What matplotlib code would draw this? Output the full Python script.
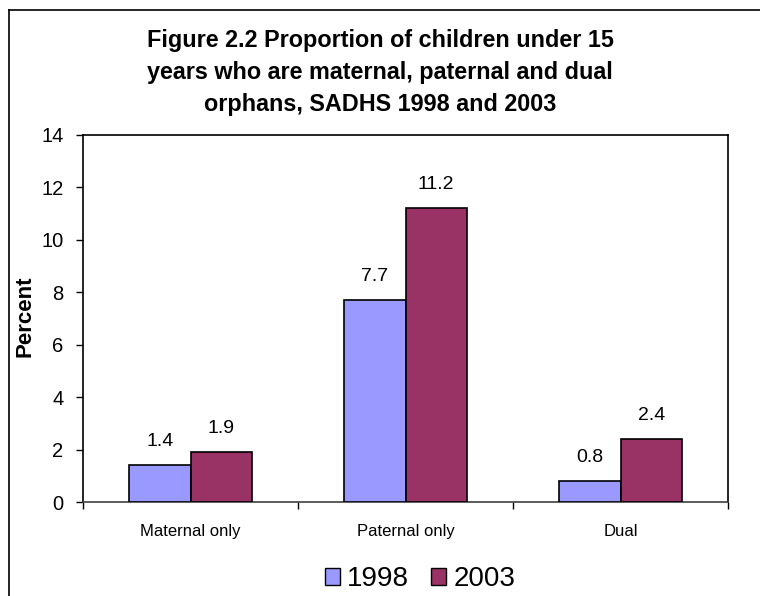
import matplotlib
matplotlib.use("Agg")
import matplotlib.pyplot as plt
from matplotlib.patches import Rectangle
from matplotlib.lines import Line2D
import numpy as np

plt.rcParams["font.family"] = ["Liberation Sans", "DejaVu Sans"]

categories = ["Maternal only", "Paternal only", "Dual"]
years = ["1998", "2003"]
vals_1998 = [1.4, 7.7, 0.8]
vals_2003 = [1.9, 11.2, 2.4]
colors = ["#9999FF", "#993366"]

fig = plt.figure(figsize=(7.6, 5.96), dpi=100)
ax = fig.add_axes([83 / 760, 1 - 502 / 596, (728 - 83) / 760, (502 - 135) / 596])

x = np.arange(len(categories))
w = 1 / 3.5
for i, (vals, col) in enumerate(zip([vals_1998, vals_2003], colors)):
    pos = x + (i - 0.5) * w
    ax.bar(pos, vals, width=w, color=col, edgecolor="black", linewidth=1.2, zorder=3)
    for p, v in zip(pos, vals):
        ax.annotate(f"{v}", (p, v), xytext=(0, 14), textcoords="offset points",
                    ha="center", va="baseline", fontsize=14)

ax.set_xlim(-0.5, 2.5)
ax.set_ylim(0, 14)
ax.set_yticks(range(0, 15, 2))
ax.tick_params(axis="y", labelsize=14.5, length=5, width=1, pad=9)
ax.set_xticks(x)
ax.set_xticklabels(categories, fontsize=12)
ax.tick_params(axis="x", length=0, pad=16)
ax.set_xticks([-0.5, 0.5, 1.5, 2.5], minor=True)
ax.tick_params(axis="x", which="minor", length=5, width=1)
for s in ax.spines.values():
    s.set_linewidth(1.2)
    s.set_color("black")
ax.spines["bottom"].set_color("#404040")

fig.text(25 / 760, 1 - 316 / 596, "Percent", rotation=90, ha="center", va="center",
         fontsize=16, fontweight="bold")

fig.text(0.5, 1 - 72 / 596,
         "Figure 2.2 Proportion of children under 15\n"
         "years who are maternal, paternal and dual\n"
         "orphans, SADHS 1998 and 2003",
         ha="center", va="center", fontsize=16.8, fontweight="bold",
         linespacing=1.5)

handles = [Rectangle((0, 0), 1, 1, facecolor=c, edgecolor="black", linewidth=1) for c in colors]
fig.legend(handles, years, loc="center", bbox_to_anchor=(420 / 760, 1 - 579 / 596),
           ncol=2, frameon=False, fontsize=20, handlelength=0.55, handleheight=0.55,
           handletextpad=0.25, columnspacing=0.8)

# outer chart frame (only left and top edges visible)
fig.add_artist(Line2D([9 / 760, 9 / 760], [0, 1 - 10 / 596], color="black", linewidth=1.2))
fig.add_artist(Line2D([9 / 760, 1], [1 - 10 / 596, 1 - 10 / 596], color="black", linewidth=1.2))

fig.savefig("out.png", dpi=100)
